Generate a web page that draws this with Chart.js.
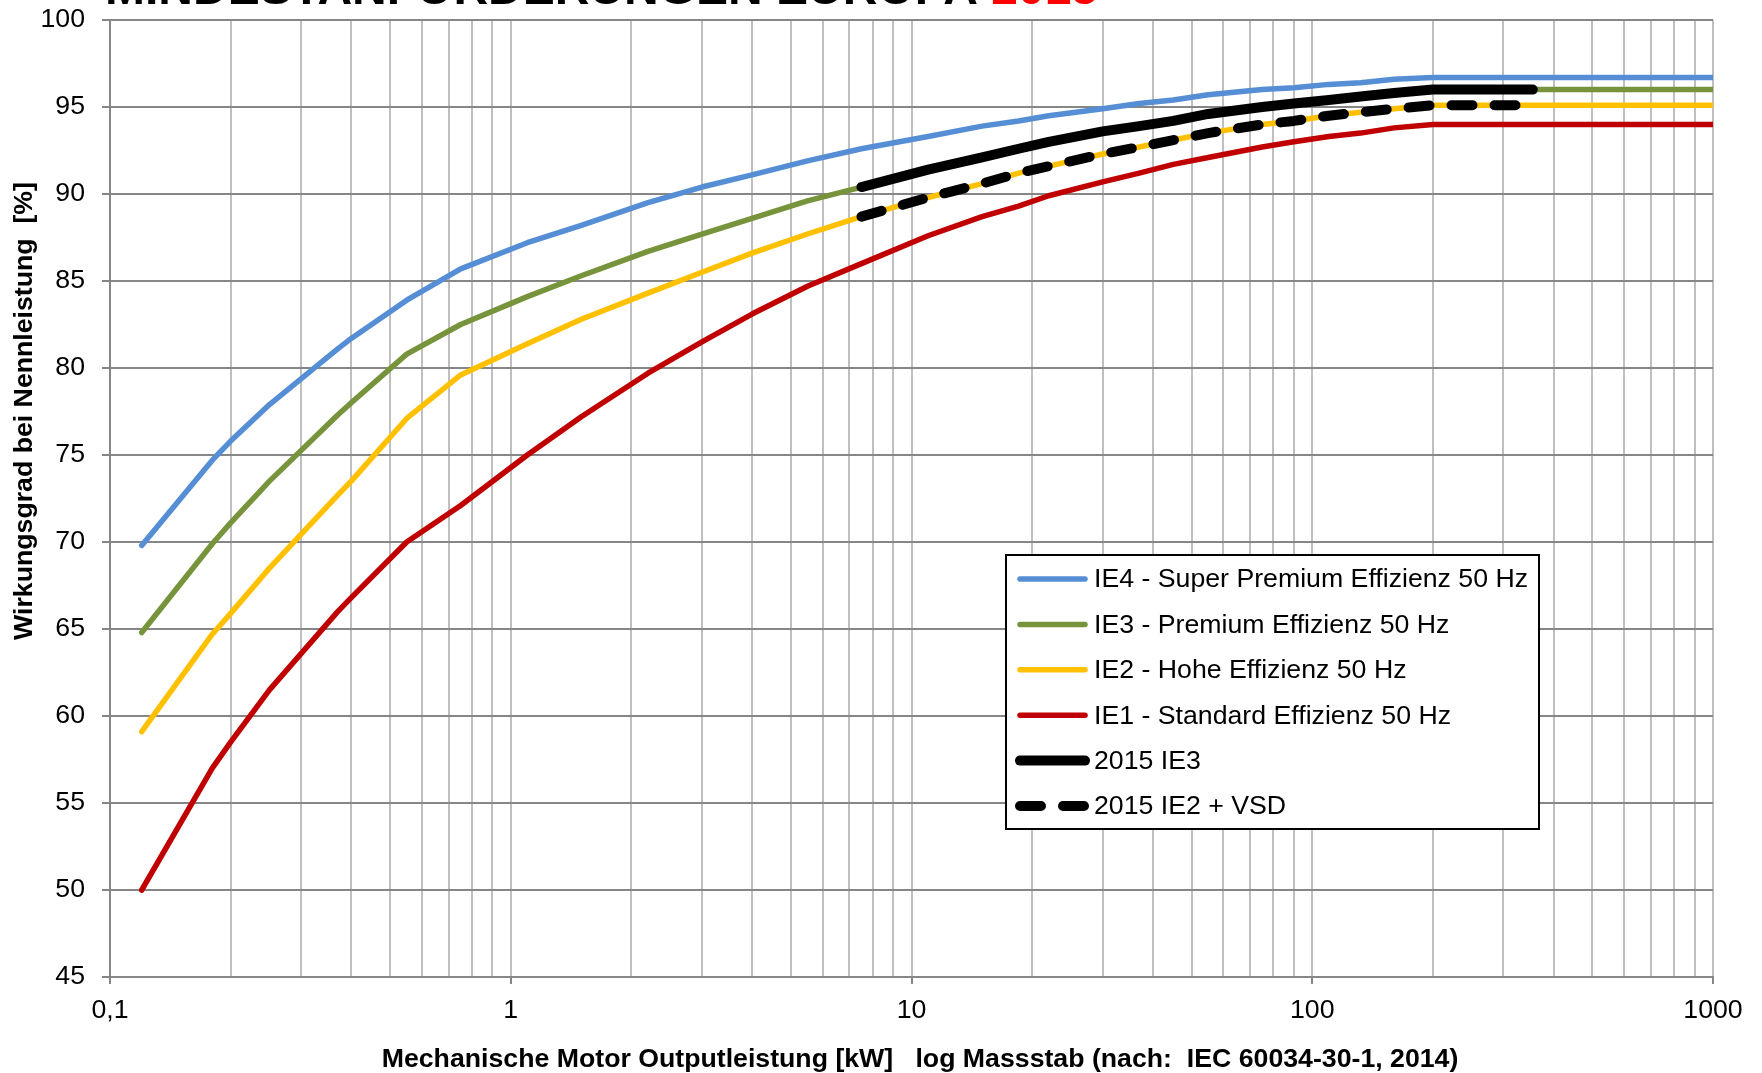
<!DOCTYPE html>
<html>
<head>
<meta charset="utf-8">
<script src="https://cdn.jsdelivr.net/npm/chart.js@4.4.1/dist/chart.umd.min.js"></script>
<style>
  body { margin: 0; background: #fff; }
  canvas { display: block; }
</style>
</head>
<body>
<canvas id="wirkungsgrad" width="1762" height="1073"></canvas>
<script>
// Nennleistung in kW (IEC 60034-30-1, 4-polig, 50 Hz)
const leistung = [0.12, 0.18, 0.2, 0.25, 0.37, 0.4, 0.55, 0.75, 1.1, 1.5, 2.2, 3, 4, 5.5, 7.5, 11, 15, 18.5, 22, 30, 37, 45, 55, 75, 90, 110, 132, 160, 200, 355, 1000];

const ie4 = [69.8, 74.7, 75.8, 77.9, 81.1, 81.7, 83.9, 85.7, 87.2, 88.2, 89.5, 90.4, 91.1, 91.9, 92.6, 93.3, 93.9, 94.2, 94.5, 94.9, 95.2, 95.4, 95.7, 96.0, 96.1, 96.3, 96.4, 96.6, 96.7, 96.7, 96.7];
const ie3 = [64.8, 69.9, 71.1, 73.5, 77.3, 78.0, 80.8, 82.5, 84.1, 85.3, 86.7, 87.7, 88.6, 89.6, 90.4, 91.4, 92.1, 92.6, 93.0, 93.6, 93.9, 94.2, 94.6, 95.0, 95.2, 95.4, 95.6, 95.8, 96.0, 96.0, 96.0];
const ie2 = [59.1, 64.7, 65.9, 68.5, 72.7, 73.5, 77.1, 79.6, 81.4, 82.8, 84.3, 85.5, 86.6, 87.7, 88.7, 89.8, 90.6, 91.2, 91.6, 92.3, 92.7, 93.1, 93.5, 94.0, 94.2, 94.5, 94.7, 94.9, 95.1, 95.1, 95.1];
const ie1 = [50.0, 57.0, 58.5, 61.5, 66.0, 66.8, 70.0, 72.1, 75.0, 77.2, 79.7, 81.5, 83.1, 84.7, 86.0, 87.6, 88.7, 89.3, 89.9, 90.7, 91.2, 91.7, 92.1, 92.7, 93.0, 93.3, 93.5, 93.8, 94.0, 94.0, 94.0];

// Bereich der Anforderungen 2015 im Diagramm: 7,5 kW bis 355 kW
const bereich2015 = [7.5, 355];

const xGitter = [0.1, 0.2, 0.3, 0.4, 0.5, 0.6, 0.7, 0.8, 0.9,
  1, 2, 3, 4, 5, 6, 7, 8, 9,
  10, 20, 30, 40, 50, 60, 70, 80, 90,
  100, 200, 300, 400, 500, 600, 700, 800, 900, 1000];
const xBeschriftung = { 0.1: '0,1', 1: '1', 10: '10', 100: '100', 1000: '1000' };

function punkte(werte) {
  return leistung.map((p, i) => ({ x: p, y: werte[i] }));
}
function punkte2015(werte) {
  return punkte(werte).filter((pt) => pt.x >= bereich2015[0] && pt.x <= bereich2015[1]);
}

const schrift = '"Liberation Sans", Arial, sans-serif';
const groesse = 26.7;

const hintergrund = {
  id: 'hintergrund',
  beforeDraw(chart) {
    const ctx = chart.ctx;
    ctx.save();
    ctx.fillStyle = '#fff';
    ctx.fillRect(0, 0, chart.width, chart.height);
    ctx.restore();
  },
};

const beschriftung = {
  id: 'beschriftung',
  afterDraw(chart) {
    const ctx = chart.ctx;
    ctx.save();
    // Titel (oben abgeschnitten wie im Original)
    ctx.font = 'bold 48px ' + schrift;
    ctx.textBaseline = 'alphabetic';
    ctx.textAlign = 'left';
    const teil1 = 'MINDESTANFORDERUNGEN EUROPA ';
    ctx.fillStyle = '#000';
    ctx.fillText(teil1, 105, 4);
    ctx.fillStyle = '#ff0000';
    ctx.fillText('2015', 105 + ctx.measureText(teil1).width, 4);

    // Achsentitel
    ctx.fillStyle = '#000';
    ctx.font = 'bold ' + groesse + 'px ' + schrift;
    ctx.textAlign = 'center';
    ctx.textBaseline = 'middle';
    ctx.fillText('Mechanische Motor Outputleistung [kW]   log Massstab (nach:  IEC 60034-30-1, 2014)', 920, 1060);
    ctx.translate(25, 411);
    ctx.rotate(-Math.PI / 2);
    ctx.fillText('Wirkungsgrad bei Nennleistung  [%]', 0, 0);
    ctx.restore();

    // Legende
    const box = { left: 1006, top: 555, right: 1539, bottom: 829 };
    ctx.save();
    ctx.fillStyle = '#fff';
    ctx.fillRect(box.left, box.top, box.right - box.left, box.bottom - box.top);
    ctx.strokeStyle = '#000';
    ctx.lineWidth = 2;
    ctx.strokeRect(box.left, box.top, box.right - box.left, box.bottom - box.top);
    ctx.font = groesse + 'px ' + schrift;
    ctx.textBaseline = 'middle';
    ctx.textAlign = 'left';
    chart.data.datasets.forEach((ds, i) => {
      const y = box.top + 24 + i * 45.4;
      ctx.beginPath();
      ctx.setLineDash(ds.borderDash || []);
      ctx.lineWidth = ds.borderWidth;
      ctx.lineCap = 'round';
      ctx.strokeStyle = ds.borderColor;
      ctx.moveTo(1020, y);
      ctx.lineTo(1085, y);
      ctx.stroke();
      ctx.setLineDash([]);
      ctx.fillStyle = '#000';
      ctx.fillText(ds.label, 1094, y + 1);
    });
    ctx.restore();
  },
};

const linie = {
  fill: false,
  tension: 0,
  pointRadius: 0,
  borderCapStyle: 'round',
  borderJoinStyle: 'round',
};

new Chart(document.getElementById('wirkungsgrad'), {
  type: 'line',
  data: {
    datasets: [
      { ...linie, label: 'IE4 - Super Premium Effizienz 50 Hz', data: punkte(ie4), borderColor: '#558ed5', borderWidth: 5.5, order: 5 },
      { ...linie, label: 'IE3 - Premium Effizienz 50 Hz', data: punkte(ie3), borderColor: '#77933c', borderWidth: 5.5, order: 4 },
      { ...linie, label: 'IE2 - Hohe Effizienz 50 Hz', data: punkte(ie2), borderColor: '#ffc000', borderWidth: 5.5, order: 3 },
      { ...linie, label: 'IE1 - Standard Effizienz 50 Hz', data: punkte(ie1), borderColor: '#c00000', borderWidth: 5.5, order: 2 },
      { ...linie, label: '2015 IE3', data: punkte2015(ie3), borderColor: '#000', borderWidth: 10, order: 1 },
      { ...linie, label: '2015 IE2 + VSD', data: punkte2015(ie2), borderColor: '#000', borderWidth: 10, borderDash: [21, 22], order: 0 },
    ],
  },
  options: {
    responsive: false,
    animation: false,
    events: [],
    layout: { padding: { top: 20, right: 49, left: 0, bottom: 0 } },
    plugins: {
      legend: { display: false },
      title: { display: false },
      tooltip: { enabled: false },
    },
    scales: {
      x: {
        type: 'logarithmic',
        min: 0.1,
        max: 1000,
        afterBuildTicks: (scale) => {
          scale.ticks = xGitter.map((v) => ({ value: v }));
        },
        afterFit: (scale) => {
          scale.height = 96;
          scale.paddingLeft = 0;
          scale.paddingRight = 0;
        },
        border: { color: '#868686', width: 2 },
        grid: {
          color: '#bfbfbf',
          lineWidth: 2,
          tickLength: 7,
          tickColor: (ctx) => (xBeschriftung[ctx.tick.value] ? '#868686' : 'rgba(0,0,0,0)'),
          tickWidth: 2,
        },
        ticks: {
          autoSkip: false,
          maxRotation: 0,
          padding: 11,
          color: '#000',
          font: { family: schrift, size: groesse },
          callback: (value) => xBeschriftung[value] || '',
        },
      },
      y: {
        min: 45,
        max: 100,
        afterFit: (scale) => {
          scale.width = 110;
          scale.paddingTop = 0;
          scale.paddingBottom = 0;
        },
        border: { color: '#868686', width: 2 },
        grid: {
          color: '#868686',
          lineWidth: 2,
          tickLength: 8,
          tickColor: '#868686',
          tickWidth: 2,
        },
        ticks: {
          stepSize: 5,
          padding: 17,
          color: '#000',
          font: { family: schrift, size: groesse },
        },
      },
    },
  },
  plugins: [hintergrund, beschriftung],
});
</script>
</body>
</html>
